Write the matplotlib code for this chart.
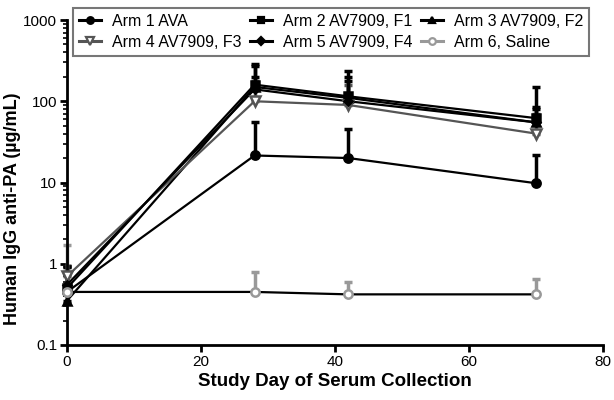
import matplotlib

matplotlib.use("Agg")
import matplotlib.pyplot as plt
from matplotlib.ticker import LogLocator, NullFormatter

plt.rcParams["font.family"] = ["Liberation Sans", "DejaVu Sans"]

days = [0, 28, 42, 70]
arm_labels = [
    "Arm 1 AVA",
    "Arm 2 AV7909, F1",
    "Arm 3 AV7909, F2",
    "Arm 4 AV7909, F3",
    "Arm 5 AV7909, F4",
    "Arm 6, Saline",
]
arm1 = [0.45, 21.5, 20.0, 9.8]
arm2 = [0.50, 160.0, 115.0, 62.0]
arm3 = [0.35, 150.0, 110.0, 55.0]
arm4 = [0.70, 100.0, 90.0, 40.0]
arm5 = [0.55, 140.0, 100.0, 55.0]
arm6 = [0.45, 0.45, 0.42, 0.42]

# upper error bar ends
arm1_hi = [0.95, 55.0, 46.0, 22.0]
arm2_hi = [0.95, 290.0, 235.0, 150.0]
arm3_hi = [0.80, 200.0, 180.0, 80.0]
arm4_hi = [0.90, 180.0, 160.0, 70.0]
arm5_hi = [0.90, 270.0, 200.0, 85.0]
arm6_hi = [1.7, 0.79, 0.60, 0.65]

series = [arm1, arm2, arm3, arm4, arm5, arm6]
highs = [arm1_hi, arm2_hi, arm3_hi, arm4_hi, arm5_hi, arm6_hi]
styles = [
    dict(marker="o", color="black", mfc="black", ms=6),
    dict(marker="s", color="black", mfc="black", ms=6),
    dict(marker="^", color="black", mfc="black", ms=6),
    dict(marker="v", color="#555555", mfc="white", ms=7),
    dict(marker="D", color="black", mfc="black", ms=4.5),
    dict(marker="o", color="#999999", mfc="white", ms=6),
]

fig = plt.figure(figsize=(6.14, 4.0), dpi=100)
ax = fig.add_axes([0.109, 0.1375, 0.873, 0.8125])

handles = []
for vals, hi, st, label in zip(series, highs, styles, arm_labels):
    err = [h - v for h, v in zip(hi, vals)]
    ecol = st["color"]
    ax.errorbar(days, vals, yerr=[[0] * len(vals), err], fmt="none",
                ecolor=ecol, elinewidth=2.5, capsize=3, capthick=2.5, zorder=2,
                clip_on=False)
    line_col = "black" if label == "Arm 6, Saline" else st["color"]
    ax.plot(days, vals, color=line_col, linewidth=1.6, zorder=3, clip_on=False)
    ax.plot(days, vals, linestyle="none", marker=st["marker"], markersize=st["ms"],
            markerfacecolor=st["mfc"], markeredgecolor=st["color"], markeredgewidth=1.8,
            zorder=4, clip_on=False)
    h, = ax.plot([], [], color=st["color"], linewidth=2.2, marker=st["marker"],
                 markersize=st["ms"] * 0.8, markerfacecolor=st["mfc"],
                 markeredgecolor=st["color"], markeredgewidth=1.6)
    handles.append(h)

ax.set_yscale("log")
ax.set_ylim(0.1, 1000)
ax.set_xlim(0, 80)
ax.set_xticks([0, 20, 40, 60, 80])
ax.set_yticks([0.1, 1, 10, 100, 1000])
ax.set_yticklabels(["0.1", "1", "10", "100", "1000"])
ax.yaxis.set_minor_locator(LogLocator(base=10, subs=range(2, 10)))
ax.yaxis.set_minor_formatter(NullFormatter())

for side in ["top", "right"]:
    ax.spines[side].set_visible(False)
for side in ["left", "bottom"]:
    ax.spines[side].set_linewidth(2)
ax.tick_params(which="major", direction="out", length=5, width=2, labelsize=11, pad=2)
ax.tick_params(which="minor", direction="out", length=3, width=1.2)

ax.set_xlabel("Study Day of Serum Collection", fontsize=13.5, fontweight="bold", labelpad=3)
ax.set_ylabel("Human IgG anti-PA (\u00b5g/mL)", fontsize=13, fontweight="bold", labelpad=4)
ax.yaxis.set_label_coords(-0.085, 0.42)

# reorder handles so columns read row-wise as in the reference
order = [0, 3, 1, 4, 2, 5]
leg = fig.legend([handles[i] for i in order], [arm_labels[i] for i in order],
                 loc="upper left", bbox_to_anchor=(0.119, 0.98), borderaxespad=0,
                 ncol=3, fontsize=11.5, frameon=True, fancybox=False, handlelength=1.4,
                 handletextpad=0.7, columnspacing=0.5, borderpad=0.35, labelspacing=0.4)
leg.get_frame().set_edgecolor("#555555")
leg.get_frame().set_linewidth(1.5)

fig.savefig("out.png", dpi=100)
